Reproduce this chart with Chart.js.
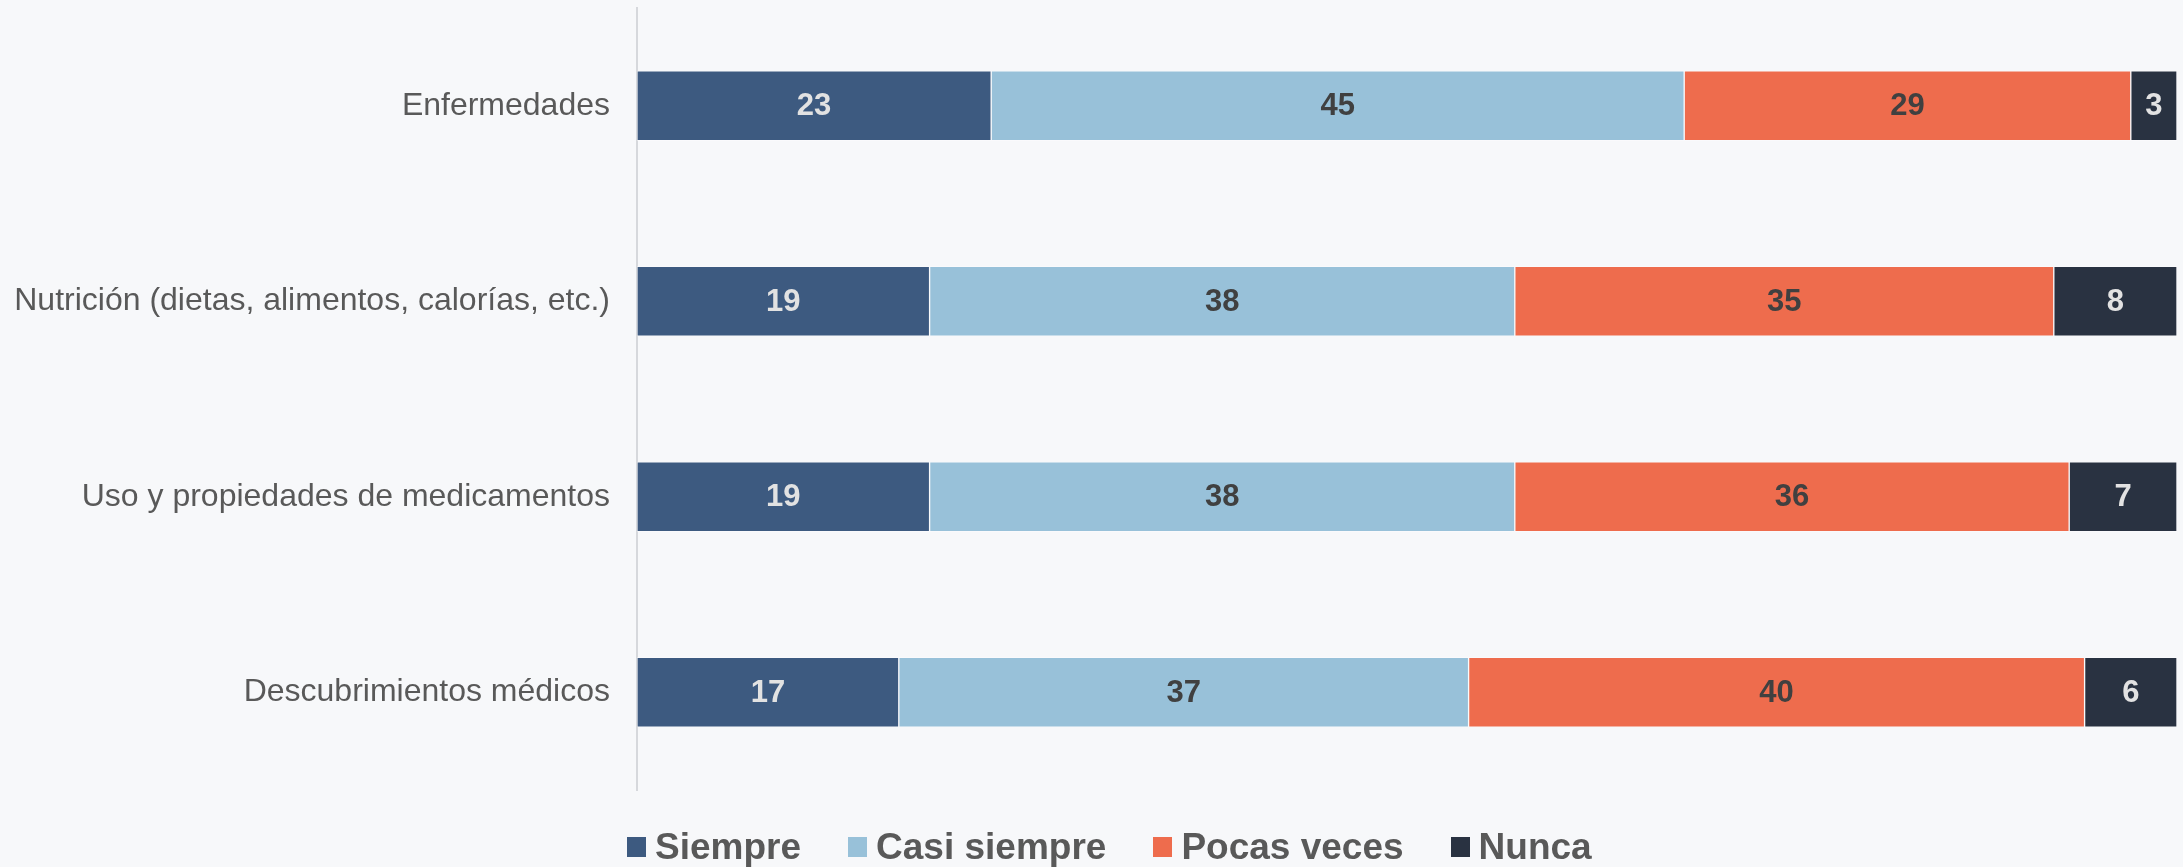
<!DOCTYPE html>
<html>
<head>
<meta charset="utf-8">
<script src="https://cdn.jsdelivr.net/npm/chart.js@4.4.1/dist/chart.umd.min.js"></script>
<style>
  html, body { margin: 0; padding: 0; background: #f7f8fa; }
  #wrap { position: relative; width: 2183px; height: 867px; overflow: hidden; }
  #c { position: absolute; left: 0; top: 0; }
  #legend { position: absolute; left: 627px; top: 829px; height: 36px; display: flex; align-items: center;
            font-family: "Liberation Sans", Arial, sans-serif; font-weight: bold; font-size: 37px; line-height: 36px; color: #595959; }
  .item { display: flex; align-items: center; margin-right: 47px; white-space: nowrap; }
  .box { width: 19px; height: 20px; margin-right: 9px; }
</style>
</head>
<body>
<div id="wrap">
  <canvas id="c" width="2183" height="867"></canvas>
  <div id="legend"></div>
</div>
<script>
const categories = [
  "Enfermedades",
  "Nutrición (dietas, alimentos, calorías, etc.)",
  "Uso y propiedades de medicamentos",
  "Descubrimientos médicos"
];
const seriesNames = ["Siempre", "Casi siempre", "Pocas veces", "Nunca"];
const siempre     = [23, 19, 19, 17];
const casiSiempre = [45, 38, 38, 37];
const pocasVeces  = [29, 35, 36, 40];
const nunca       = [3, 8, 7, 6];

const colors = ["#3d5a80", "#98c1d9", "#ee6c4d", "#293241"];
const labelColors = ["#e2e2e2", "#404040", "#404040", "#e2e2e2"];
const seriesValues = [siempre, casiSiempre, pocasVeces, nunca];

const valueLabels = {
  id: "valueLabels",
  afterDatasetsDraw(chart) {
    const ctx = chart.ctx;
    ctx.save();
    ctx.font = "bold 31px 'Liberation Sans', Arial, sans-serif";
    ctx.textAlign = "center";
    ctx.textBaseline = "middle";
    chart.data.datasets.forEach((ds, di) => {
      const meta = chart.getDatasetMeta(di);
      meta.data.forEach((bar, i) => {
        const v = ds.data[i];
        const cx = (bar.x + bar.base) / 2;
        ctx.fillStyle = labelColors[di];
        ctx.fillText(String(v), cx, bar.y + 1);
      });
    });
    ctx.restore();
  }
};

const bgPlugin = {
  id: "bg",
  beforeDraw(chart) {
    const ctx = chart.ctx;
    ctx.save();
    ctx.fillStyle = "#f7f8fa";
    ctx.fillRect(0, 0, chart.width, chart.height);
    ctx.restore();
  }
};

new Chart(document.getElementById("c"), {
  type: "bar",
  data: {
    labels: categories,
    datasets: seriesNames.map((name, i) => ({
      label: name,
      data: seriesValues[i],
      backgroundColor: colors[i],
      borderColor: "rgba(255,255,255,0.35)",
      borderWidth: 1,
      borderSkipped: false,
      barThickness: 70
    }))
  },
  options: {
    indexAxis: "y",
    responsive: false,
    animation: false,
    layout: { padding: { top: 8, right: 6, bottom: 77, left: 0 } },
    plugins: { legend: { display: false }, tooltip: { enabled: false } },
    scales: {
      x: {
        stacked: true, min: 0, max: 100, display: false
      },
      y: {
        stacked: true,
        afterFit(s) { s.width = 637; s.paddingTop = 0; s.paddingBottom = 0; },
        grid: { display: false, drawTicks: false },
        border: { display: true, color: "#d6d8dc", width: 2 },
        ticks: {
          padding: 27,
          color: "#595959",
          font: { family: "'Liberation Sans', Arial, sans-serif", size: 32 }
        }
      }
    }
  },
  plugins: [bgPlugin, valueLabels]
});

const legend = document.getElementById("legend");
seriesNames.forEach((name, i) => {
  const item = document.createElement("div");
  item.className = "item";
  const box = document.createElement("span");
  box.className = "box";
  box.style.background = colors[i];
  const t = document.createElement("span");
  t.textContent = name;
  item.appendChild(box);
  item.appendChild(t);
  legend.appendChild(item);
});
</script>
</body>
</html>
